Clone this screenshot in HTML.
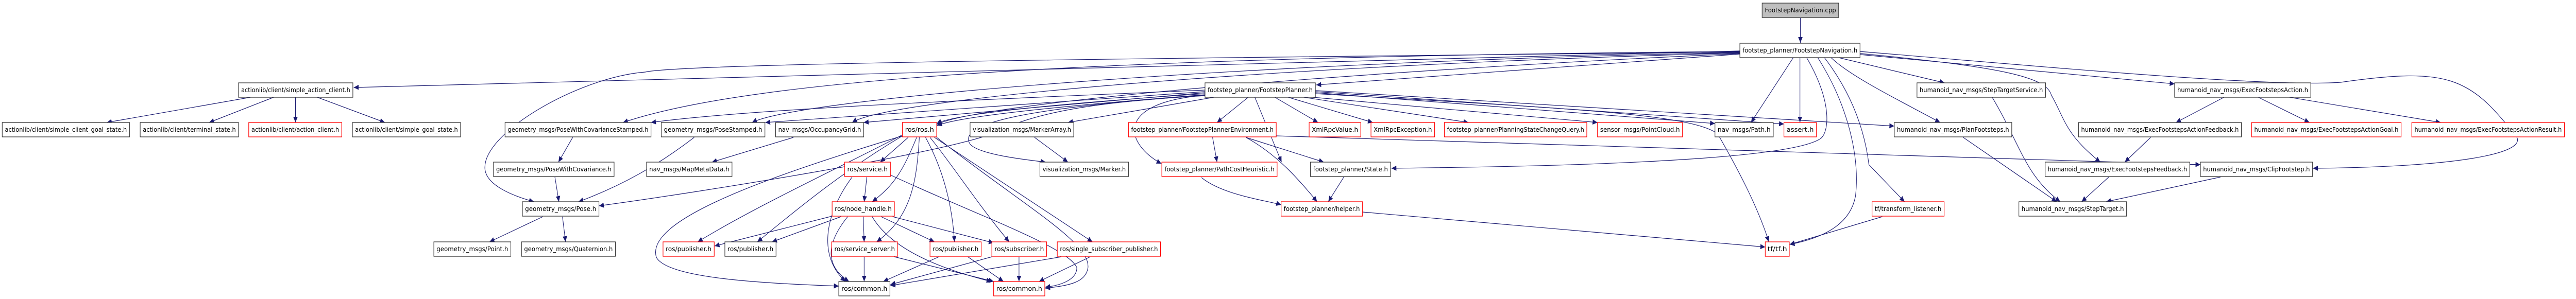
<!DOCTYPE html>
<html><head><meta charset="utf-8"><style>
html,body{margin:0;padding:0;background:#fff;width:100vw;height:100vh;overflow:hidden;}
svg{display:block;position:absolute;left:0;top:0;width:100vw;height:100vh;}
text{font-family:"DejaVu Sans","Liberation Sans",sans-serif;font-size:12px;fill:#000;}
.b{fill:#fff;stroke:#333;stroke-width:1.3;}
.r{fill:#fff;stroke:#ff0000;stroke-width:1.3;}
.g{fill:#bfbfbf;stroke:#333;stroke-width:1.3;}
.e{fill:none;stroke:#191970;stroke-width:1.2;marker-end:url(#ah);}
</style></head><body>
<svg viewBox="0 0 5789 581" preserveAspectRatio="none" xmlns="http://www.w3.org/2000/svg">
<defs><marker id="ah" markerUnits="userSpaceOnUse" markerWidth="12" markerHeight="10" refX="11" refY="5" orient="auto"><path d="M0,0 L11,5 L0,10 z" fill="#191970"/></marker></defs>
<g>
<path class="e" d="M4046,35 L4046,83"/>
<path class="e" d="M3910,99 C2500,130 1500,150 795,170"/>
<path class="e" d="M3910,105 L2958,165"/>
<path class="e" d="M3910,100 C2500,110 1700,150 1400,238"/>
<path class="e" d="M3910,101 C3000,110 1550,120 1450,140 C1300,150 1080,260 1090,330 C1095,360 1150,380 1200,392"/>
<path class="e" d="M3910,102 C2800,120 1800,190 1690,238"/>
<path class="e" d="M3910,103 C2900,125 2000,190 1915,238"/>
<path class="e" d="M3910,104 C3000,140 2200,200 2105,242"/>
<path class="e" d="M4030,112 L3935,238"/>
<path class="e" d="M4045,112 L4045,238"/>
<path class="e" d="M4060,112 C4120,200 4110,260 4090,270 C4000,320 3300,325 3127,327"/>
<path class="e" d="M4085,112 C4150,200 4180,300 4170,380 C4160,430 4110,460 4022,475"/>
<path class="e" d="M4100,112 C4160,180 4190,250 4200,320 L4280,392"/>
<path class="e" d="M4132,112 L4370,161"/>
<path class="e" d="M4115,112 C4160,150 4280,200 4360,238"/>
<path class="e" d="M4180,106 L4887,163"/>
<path class="e" d="M4180,104 C4500,130 4600,150 4610,185 C4640,230 4640,260 4720,315"/>
<path class="e" d="M4180,100 C4600,130 5100,170 5260,160 C5500,130 5550,150 5650,260 C5700,300 5500,325 5198,327"/>
<path class="e" d="M2708,175 C2300,190 1700,210 1463,238"/>
<path class="e" d="M2708,178 L1720,238"/>
<path class="e" d="M2708,180 L1941,238"/>
<path class="e" d="M2708,182 C2400,200 2150,220 2105,240"/>
<path class="e" d="M2708,184 C2400,205 2160,225 2106,244"/>
<path class="e" d="M2728,189 L2400,238"/>
<path class="e" d="M2708,185 C2300,210 2150,240 2180,280 C2200,300 2300,310 2350,315"/>
<path class="e" d="M2805,189 L2735,238"/>
<path class="e" d="M2708,185 C2500,200 2530,280 2610,318"/>
<path class="e" d="M2865,189 L2962,238"/>
<path class="e" d="M2895,189 L3085,238"/>
<path class="e" d="M2930,189 L3300,238"/>
<path class="e" d="M2950,189 L3590,238"/>
<path class="e" d="M2956,180 L3854,240"/>
<path class="e" d="M2956,178 L4009,241"/>
<path class="e" d="M2956,176 L4257,245"/>
<path class="e" d="M2820,189 L2880,315"/>
<path class="e" d="M2956,182 C3500,210 3800,220 3860,260 C3900,320 3950,400 3975,470"/>
<path class="e" d="M2708,186 C2400,200 2300,230 2230,260 C2100,300 1600,370 1346,400"/>
<path class="e" d="M2725,267 L2735,315"/>
<path class="e" d="M2800,267 L2975,315"/>
<path class="e" d="M2800,267 C2870,300 2920,350 2960,392"/>
<path class="e" d="M2868,264 C3300,280 3800,285 4945,320"/>
<path class="e" d="M2700,345 C2750,380 2850,390 2879,398"/>
<path class="e" d="M3020,344 L2985,392"/>
<path class="e" d="M3062,412 L3967,480"/>
<path class="e" d="M4230,421 L4022,475"/>
<path class="e" d="M563,189 L240,238"/>
<path class="e" d="M615,189 L470,238"/>
<path class="e" d="M664,189 L664,238"/>
<path class="e" d="M713,189 L865,238"/>
<path class="e" d="M1287,267 L1255,315"/>
<path class="e" d="M1247,344 L1256,392"/>
<path class="e" d="M1220,421 L1100,470"/>
<path class="e" d="M1264,421 L1271,470"/>
<path class="e" d="M1560,267 C1480,320 1400,360 1300,392"/>
<path class="e" d="M1783,267 L1600,315"/>
<path class="e" d="M2325,267 L2400,315"/>
<path class="e" d="M2041,267 L1978,315"/>
<path class="e" d="M2060,267 C2030,330 2010,360 1960,392"/>
<path class="e" d="M2028,262 C1900,320 1700,400 1568,470"/>
<path class="e" d="M2028,264 C1900,330 1800,400 1702,470"/>
<path class="e" d="M2066,267 C2060,350 2050,420 1970,470"/>
<path class="e" d="M2080,267 C2120,330 2140,400 2145,470"/>
<path class="e" d="M2090,267 C2140,320 2200,400 2268,470"/>
<path class="e" d="M2100,267 L2455,470"/>
<path class="e" d="M2028,264 C1700,350 1450,430 1475,500 C1500,540 1700,550 1885,556"/>
<path class="e" d="M2105,267 C2300,400 2450,470 2445,520 C2440,550 2400,555 2349,560"/>
<path class="e" d="M1948,344 L1942,392"/>
<path class="e" d="M1915,344 C1850,420 1840,500 1900,547"/>
<path class="e" d="M2001,340 C2200,420 2400,480 2420,520 C2420,545 2380,555 2349,558"/>
<path class="e" d="M1870,420 L1606,478"/>
<path class="e" d="M1890,421 L1735,470"/>
<path class="e" d="M1940,421 L1942,470"/>
<path class="e" d="M1980,421 L2100,470"/>
<path class="e" d="M2006,421 L2233,472"/>
<path class="e" d="M1905,421 C1850,480 1860,520 1908,547"/>
<path class="e" d="M1960,421 C2000,480 2100,520 2228,547"/>
<path class="e" d="M1942,499 L1942,547"/>
<path class="e" d="M2010,499 L2233,547"/>
<path class="e" d="M2110,499 L1985,547"/>
<path class="e" d="M2175,499 L2255,547"/>
<path class="e" d="M2229,499 L2001,553"/>
<path class="e" d="M2290,499 L2290,547"/>
<path class="e" d="M2385,499 L2001,555"/>
<path class="e" d="M2450,499 L2335,547"/>
<path class="e" d="M4998,189 L4890,238"/>
<path class="e" d="M5075,189 L5190,238"/>
<path class="e" d="M5145,189 L5485,238"/>
<path class="e" d="M4833,267 L4775,315"/>
<path class="e" d="M4477,189 C4540,280 4550,340 4630,392"/>
<path class="e" d="M4412,267 L4622,392"/>
<path class="e" d="M4739,344 L4678,392"/>
<path class="e" d="M4990,344 L4733,392"/>
</g>
<g>
<rect class="g" x="3960" y="6" width="172" height="28"/><text x="3966" y="24" textLength="160" lengthAdjust="spacingAndGlyphs">FootstepNavigation.cpp</text>
<rect class="b" x="3910" y="84" width="270" height="28"/><text x="3916" y="102" textLength="258" lengthAdjust="spacingAndGlyphs">footstep_planner/FootstepNavigation.h</text>
<rect class="b" x="536" y="161" width="257" height="28"/><text x="542" y="179" textLength="245" lengthAdjust="spacingAndGlyphs">actionlib/client/simple_action_client.h</text>
<rect class="b" x="2708" y="161" width="248" height="28"/><text x="2714" y="179" textLength="236" lengthAdjust="spacingAndGlyphs">footstep_planner/FootstepPlanner.h</text>
<rect class="b" x="4308" y="161" width="289" height="28"/><text x="4314" y="179" textLength="277" lengthAdjust="spacingAndGlyphs">humanoid_nav_msgs/StepTargetService.h</text>
<rect class="b" x="4887" y="161" width="306" height="28"/><text x="4893" y="179" textLength="294" lengthAdjust="spacingAndGlyphs">humanoid_nav_msgs/ExecFootstepsAction.h</text>

<rect class="b" x="5" y="238" width="286" height="28"/><text x="11" y="256" textLength="274" lengthAdjust="spacingAndGlyphs">actionlib/client/simple_client_goal_state.h</text>
<rect class="b" x="315" y="238" width="221" height="28"/><text x="321" y="256" textLength="209" lengthAdjust="spacingAndGlyphs">actionlib/client/terminal_state.h</text>
<rect class="r" x="559" y="238" width="209" height="28"/><text x="565" y="256" textLength="197" lengthAdjust="spacingAndGlyphs">actionlib/client/action_client.h</text>
<rect class="b" x="792" y="238" width="243" height="28"/><text x="798" y="256" textLength="231" lengthAdjust="spacingAndGlyphs">actionlib/client/simple_goal_state.h</text>
<rect class="b" x="1135" y="238" width="328" height="28"/><text x="1141" y="256" textLength="316" lengthAdjust="spacingAndGlyphs">geometry_msgs/PoseWithCovarianceStamped.h</text>
<rect class="b" x="1486" y="238" width="233" height="28"/><text x="1492" y="256" textLength="221" lengthAdjust="spacingAndGlyphs">geometry_msgs/PoseStamped.h</text>
<rect class="b" x="1743" y="238" width="198" height="28"/><text x="1749" y="256" textLength="186" lengthAdjust="spacingAndGlyphs">nav_msgs/OccupancyGrid.h</text>
<rect class="r" x="2028" y="238" width="77" height="28"/><text x="2034" y="256" textLength="65" lengthAdjust="spacingAndGlyphs">ros/ros.h</text>
<rect class="b" x="2180" y="238" width="233" height="28"/><text x="2186" y="256" textLength="221" lengthAdjust="spacingAndGlyphs">visualization_msgs/MarkerArray.h</text>
<rect class="r" x="2536" y="238" width="332" height="28"/><text x="2542" y="256" textLength="320" lengthAdjust="spacingAndGlyphs">footstep_planner/FootstepPlannerEnvironment.h</text>
<rect class="r" x="2942" y="238" width="116" height="28"/><text x="2948" y="256" textLength="104" lengthAdjust="spacingAndGlyphs">XmlRpcValue.h</text>
<rect class="r" x="3081" y="238" width="143" height="28"/><text x="3087" y="256" textLength="131" lengthAdjust="spacingAndGlyphs">XmlRpcException.h</text>
<rect class="r" x="3246" y="238" width="320" height="28"/><text x="3252" y="256" textLength="308" lengthAdjust="spacingAndGlyphs">footstep_planner/PlanningStateChangeQuery.h</text>
<rect class="r" x="3590" y="238" width="191" height="28"/><text x="3596" y="256" textLength="179" lengthAdjust="spacingAndGlyphs">sensor_msgs/PointCloud.h</text>
<rect class="b" x="3854" y="238" width="131" height="28"/><text x="3860" y="256" textLength="119" lengthAdjust="spacingAndGlyphs">nav_msgs/Path.h</text>
<rect class="r" x="4009" y="238" width="73" height="28"/><text x="4015" y="256" textLength="61" lengthAdjust="spacingAndGlyphs">assert.h</text>
<rect class="b" x="4257" y="238" width="264" height="28"/><text x="4263" y="256" textLength="252" lengthAdjust="spacingAndGlyphs">humanoid_nav_msgs/PlanFootsteps.h</text>
<rect class="b" x="4671" y="238" width="366" height="28"/><text x="4677" y="256" textLength="354" lengthAdjust="spacingAndGlyphs">humanoid_nav_msgs/ExecFootstepsActionFeedback.h</text>
<rect class="r" x="5060" y="238" width="336" height="28"/><text x="5066" y="256" textLength="324" lengthAdjust="spacingAndGlyphs">humanoid_nav_msgs/ExecFootstepsActionGoal.h</text>
<rect class="r" x="5420" y="238" width="343" height="28"/><text x="5426" y="256" textLength="331" lengthAdjust="spacingAndGlyphs">humanoid_nav_msgs/ExecFootstepsActionResult.h</text>

<rect class="b" x="1109" y="315" width="271" height="28"/><text x="1115" y="333" textLength="259" lengthAdjust="spacingAndGlyphs">geometry_msgs/PoseWithCovariance.h</text>
<rect class="b" x="1453" y="315" width="192" height="28"/><text x="1459" y="333" textLength="180" lengthAdjust="spacingAndGlyphs">nav_msgs/MapMetaData.h</text>
<rect class="r" x="1898" y="315" width="103" height="28"/><text x="1904" y="333" textLength="91" lengthAdjust="spacingAndGlyphs">ros/service.h</text>
<rect class="b" x="2337" y="315" width="199" height="28"/><text x="2343" y="333" textLength="187" lengthAdjust="spacingAndGlyphs">visualization_msgs/Marker.h</text>
<rect class="r" x="2611" y="315" width="259" height="28"/><text x="2617" y="333" textLength="247" lengthAdjust="spacingAndGlyphs">footstep_planner/PathCostHeuristic.h</text>
<rect class="b" x="2945" y="315" width="180" height="28"/><text x="2951" y="333" textLength="168" lengthAdjust="spacingAndGlyphs">footstep_planner/State.h</text>
<rect class="b" x="4596" y="315" width="325" height="28"/><text x="4602" y="333" textLength="313" lengthAdjust="spacingAndGlyphs">humanoid_nav_msgs/ExecFootstepsFeedback.h</text>
<rect class="b" x="4945" y="315" width="252" height="28"/><text x="4951" y="333" textLength="240" lengthAdjust="spacingAndGlyphs">humanoid_nav_msgs/ClipFootstep.h</text>

<rect class="b" x="1174" y="392" width="172" height="28"/><text x="1180" y="410" textLength="160" lengthAdjust="spacingAndGlyphs">geometry_msgs/Pose.h</text>
<rect class="r" x="1870" y="392" width="140" height="28"/><text x="1876" y="410" textLength="128" lengthAdjust="spacingAndGlyphs">ros/node_handle.h</text>
<rect class="r" x="2879" y="392" width="183" height="28"/><text x="2885" y="410" textLength="171" lengthAdjust="spacingAndGlyphs">footstep_planner/helper.h</text>
<rect class="r" x="4207" y="392" width="162" height="28"/><text x="4213" y="410" textLength="150" lengthAdjust="spacingAndGlyphs">tf/transform_listener.h</text>
<rect class="b" x="4537" y="392" width="242" height="28"/><text x="4543" y="410" textLength="230" lengthAdjust="spacingAndGlyphs">humanoid_nav_msgs/StepTarget.h</text>

<rect class="b" x="975" y="470" width="173" height="28"/><text x="981" y="488" textLength="161" lengthAdjust="spacingAndGlyphs">geometry_msgs/Point.h</text>
<rect class="b" x="1172" y="470" width="211" height="28"/><text x="1178" y="488" textLength="199" lengthAdjust="spacingAndGlyphs">geometry_msgs/Quaternion.h</text>
<rect class="r" x="1490" y="470" width="115" height="28"/><text x="1496" y="488" textLength="103" lengthAdjust="spacingAndGlyphs">ros/publisher.h</text>
<rect class="b" x="1629" y="470" width="115" height="28"/><text x="1635" y="488" textLength="103" lengthAdjust="spacingAndGlyphs">ros/publisher.h</text>
<rect class="r" x="1869" y="470" width="148" height="28"/><text x="1875" y="488" textLength="136" lengthAdjust="spacingAndGlyphs">ros/service_server.h</text>
<rect class="r" x="2090" y="470" width="115" height="28"/><text x="2096" y="488" textLength="103" lengthAdjust="spacingAndGlyphs">ros/publisher.h</text>
<rect class="r" x="2229" y="470" width="123" height="28"/><text x="2235" y="488" textLength="111" lengthAdjust="spacingAndGlyphs">ros/subscriber.h</text>
<rect class="r" x="2376" y="470" width="232" height="28"/><text x="2382" y="488" textLength="220" lengthAdjust="spacingAndGlyphs">ros/single_subscriber_publisher.h</text>
<rect class="r" x="3967" y="470" width="54" height="28"/><text x="3972" y="488" textLength="44" lengthAdjust="spacingAndGlyphs">tf/tf.h</text>

<rect class="b" x="1885" y="547" width="115" height="28"/><text x="1891" y="565" textLength="103" lengthAdjust="spacingAndGlyphs">ros/common.h</text>
<rect class="r" x="2233" y="547" width="115" height="28"/><text x="2239" y="565" textLength="103" lengthAdjust="spacingAndGlyphs">ros/common.h</text>
</g>
</svg>
</body></html>
